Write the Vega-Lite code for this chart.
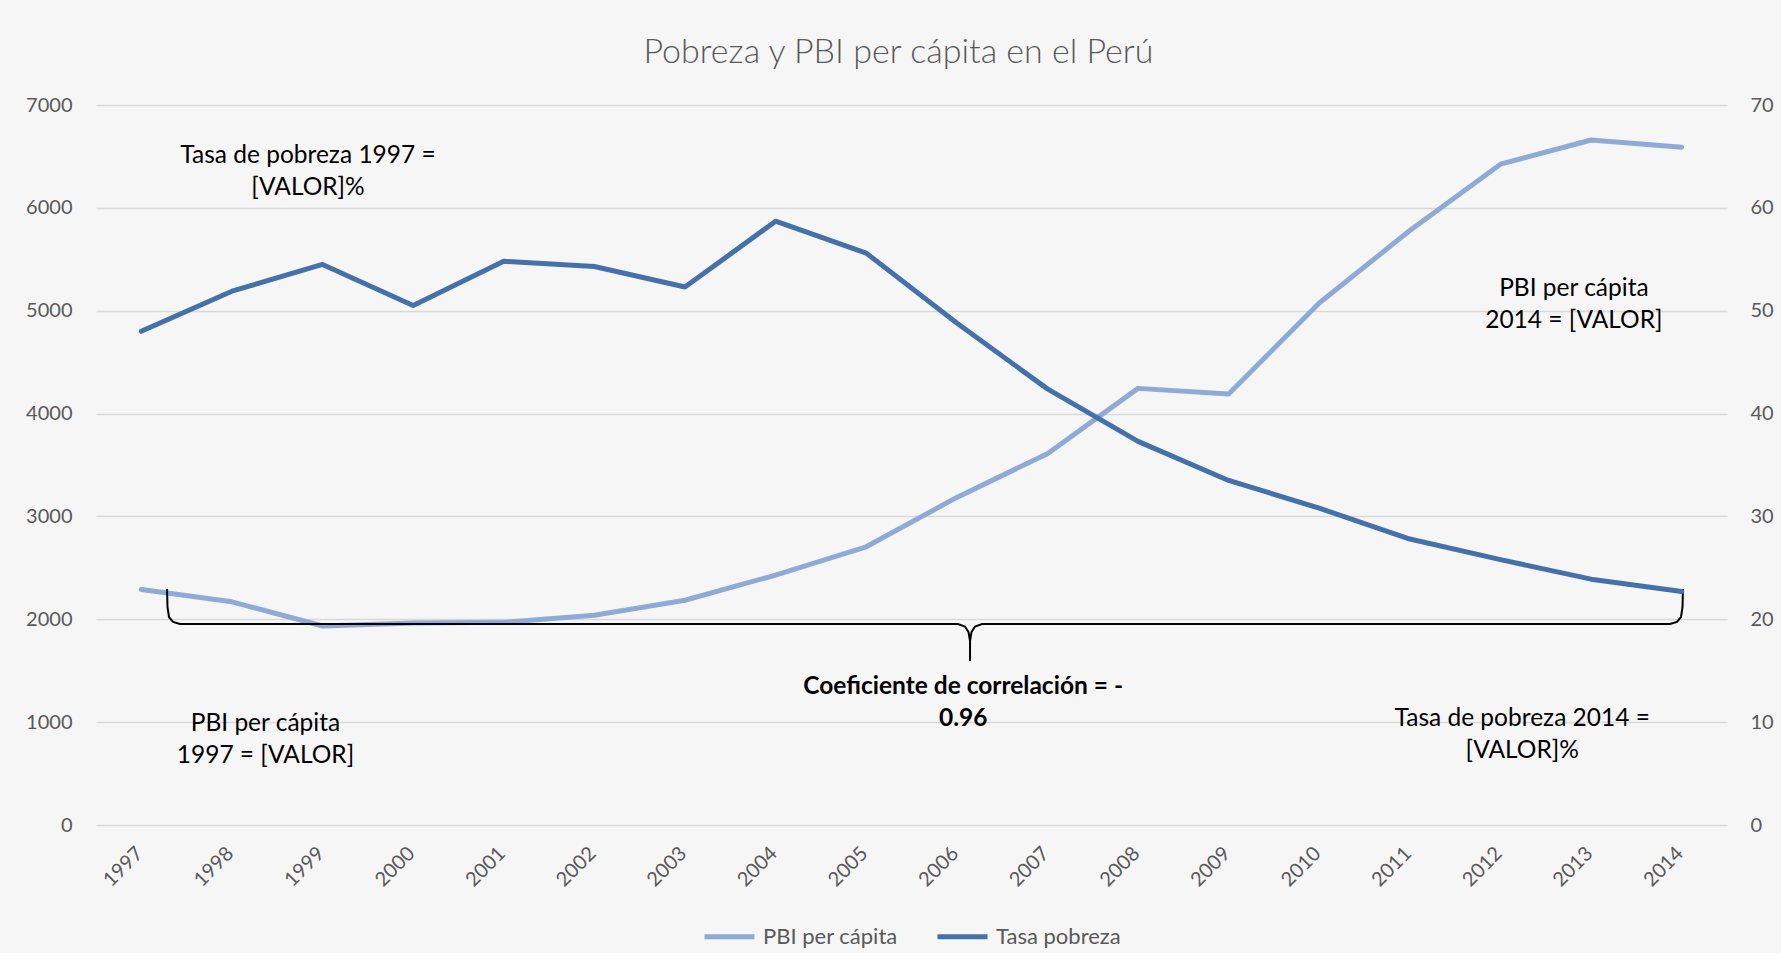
{
  "$schema": "https://vega.github.io/schema/vega-lite/v6.json",
  "width": 1631,
  "height": 720,
  "padding": {"left": 25, "top": 36, "right": 7, "bottom": 5},
  "background": "#F6F6F6",
  "config": {
    "view": {"stroke": null},
    "font": "Lato",
    "legend": {"layout": {"bottom": {"anchor": "middle"}}}
  },
  "title": {
    "text": "Pobreza y PBI per cápita en el Perú",
    "font": "Lato",
    "fontSize": 34,
    "fontWeight": 300,
    "color": "#595959",
    "anchor": "middle",
    "dx": -13,
    "offset": 25
  },
  "datasets": {
    "pbi": [
      {"anio": 1997, "valor": 2290, "serie": "PBI per cápita"},
      {"anio": 1998, "valor": 2170, "serie": "PBI per cápita"},
      {"anio": 1999, "valor": 1935, "serie": "PBI per cápita"},
      {"anio": 2000, "valor": 1965, "serie": "PBI per cápita"},
      {"anio": 2001, "valor": 1970, "serie": "PBI per cápita"},
      {"anio": 2002, "valor": 2040, "serie": "PBI per cápita"},
      {"anio": 2003, "valor": 2185, "serie": "PBI per cápita"},
      {"anio": 2004, "valor": 2430, "serie": "PBI per cápita"},
      {"anio": 2005, "valor": 2705, "serie": "PBI per cápita"},
      {"anio": 2006, "valor": 3185, "serie": "PBI per cápita"},
      {"anio": 2007, "valor": 3610, "serie": "PBI per cápita"},
      {"anio": 2008, "valor": 4245, "serie": "PBI per cápita"},
      {"anio": 2009, "valor": 4190, "serie": "PBI per cápita"},
      {"anio": 2010, "valor": 5075, "serie": "PBI per cápita"},
      {"anio": 2011, "valor": 5780, "serie": "PBI per cápita"},
      {"anio": 2012, "valor": 6425, "serie": "PBI per cápita"},
      {"anio": 2013, "valor": 6660, "serie": "PBI per cápita"},
      {"anio": 2014, "valor": 6590, "serie": "PBI per cápita"}
    ],
    "pobreza": [
      {"anio": 1997, "valor": 48.0, "serie": "Tasa pobreza"},
      {"anio": 1998, "valor": 51.9, "serie": "Tasa pobreza"},
      {"anio": 1999, "valor": 54.5, "serie": "Tasa pobreza"},
      {"anio": 2000, "valor": 50.5, "serie": "Tasa pobreza"},
      {"anio": 2001, "valor": 54.8, "serie": "Tasa pobreza"},
      {"anio": 2002, "valor": 54.3, "serie": "Tasa pobreza"},
      {"anio": 2003, "valor": 52.3, "serie": "Tasa pobreza"},
      {"anio": 2004, "valor": 58.7, "serie": "Tasa pobreza"},
      {"anio": 2005, "valor": 55.6, "serie": "Tasa pobreza"},
      {"anio": 2006, "valor": 48.8, "serie": "Tasa pobreza"},
      {"anio": 2007, "valor": 42.4, "serie": "Tasa pobreza"},
      {"anio": 2008, "valor": 37.3, "serie": "Tasa pobreza"},
      {"anio": 2009, "valor": 33.5, "serie": "Tasa pobreza"},
      {"anio": 2010, "valor": 30.8, "serie": "Tasa pobreza"},
      {"anio": 2011, "valor": 27.8, "serie": "Tasa pobreza"},
      {"anio": 2012, "valor": 25.8, "serie": "Tasa pobreza"},
      {"anio": 2013, "valor": 23.9, "serie": "Tasa pobreza"},
      {"anio": 2014, "valor": 22.7, "serie": "Tasa pobreza"}
    ],
    "notas": [
      {"anio": 1998.84, "valor": 6504, "texto": ["Tasa de pobreza 1997 =", "[VALOR]%"]},
      {"anio": 2012.81, "valor": 5215, "texto": ["PBI per cápita", "2014 = [VALOR]"]},
      {"anio": 1998.37, "valor": 985, "texto": ["PBI per cápita", "1997 = [VALOR]"]},
      {"anio": 2012.24, "valor": 1030, "texto": ["Tasa de pobreza 2014 =", "[VALOR]%"]}
    ],
    "notaBold": [
      {"anio": 2006.07, "valor": 1339, "texto": ["Coeficiente de correlación = -", "0.96"]}
    ],
    "llave": [
      {"orden": 1, "anio": 1997.284, "valor": 2294},
      {"orden": 2, "anio": 1997.289, "valor": 2119},
      {"orden": 3, "anio": 1997.306, "valor": 2022},
      {"orden": 4, "anio": 1997.350, "valor": 1974},
      {"orden": 5, "anio": 1997.427, "valor": 1954},
      {"orden": 6, "anio": 2006.013, "valor": 1954},
      {"orden": 7, "anio": 2006.090, "valor": 1930},
      {"orden": 8, "anio": 2006.129, "valor": 1876},
      {"orden": 9, "anio": 2006.146, "valor": 1789},
      {"orden": 10, "anio": 2006.146, "valor": 1594},
      {"orden": 11, "anio": 2006.146, "valor": 1789},
      {"orden": 12, "anio": 2006.162, "valor": 1876},
      {"orden": 13, "anio": 2006.201, "valor": 1930},
      {"orden": 14, "anio": 2006.278, "valor": 1954},
      {"orden": 15, "anio": 2013.871, "valor": 1954},
      {"orden": 16, "anio": 2013.948, "valor": 1974},
      {"orden": 17, "anio": 2013.992, "valor": 2022},
      {"orden": 18, "anio": 2014.009, "valor": 2119},
      {"orden": 19, "anio": 2014.014, "valor": 2294}
    ]
  },
  "encoding": {
    "x": {
      "field": "anio",
      "type": "quantitative",
      "scale": {"domain": [1996.5, 2014.5], "nice": false, "zero": false},
      "axis": {
        "title": null,
        "values": [1997, 1998, 1999, 2000, 2001, 2002, 2003, 2004, 2005, 2006, 2007, 2008, 2009, 2010, 2011, 2012, 2013, 2014],
        "format": "d",
        "labelAngle": -45,
        "labelAlign": "right",
        "labelBaseline": "top",
        "labelPadding": 18,
        "labelOffset": -9,
        "labelFontSize": 20,
        "labelFont": "Lato",
        "labelColor": "#595959",
        "grid": false,
        "domain": false,
        "ticks": false
      }
    }
  },
  "layer": [
    {
      "encoding": {
        "y": {
          "field": "valor",
          "type": "quantitative",
          "scale": {"domain": [0, 7000], "nice": false},
          "axis": {
            "title": null,
            "values": [0, 1000, 2000, 3000, 4000, 5000, 6000, 7000],
            "format": "d",
            "labelPadding": 24,
            "labelFontSize": 20,
            "labelFont": "Lato",
            "labelColor": "#595959",
            "grid": true,
            "gridColor": "#D9D9D9",
            "gridWidth": 1.5,
            "domain": false,
            "ticks": false
          }
        }
      },
      "layer": [
        {
          "data": {"name": "pbi"},
          "mark": {"type": "line", "strokeWidth": 5, "strokeCap": "round", "strokeJoin": "round"},
          "encoding": {
            "color": {
              "field": "serie",
              "type": "nominal",
              "scale": {"domain": ["PBI per cápita", "Tasa pobreza"], "range": ["#8FAAD6", "#4571AA"]},
              "legend": {
                "title": null,
                "orient": "bottom",
                "direction": "horizontal",
                "symbolType": "stroke",
                "symbolStrokeWidth": 5,
                "symbolSize": 2500,
                "labelFontSize": 22,
                "labelFont": "Lato",
                "labelColor": "#595959",
                "labelOffset": 6,
                "columnPadding": 29,
                "offset": 19
              }
            }
          }
        },
        {
          "data": {"name": "llave"},
          "mark": {"type": "line", "stroke": "#000000", "strokeWidth": 2, "interpolate": "linear"},
          "encoding": {"order": {"field": "orden", "type": "quantitative"}}
        },
        {
          "data": {"name": "notas"},
          "mark": {"type": "text", "align": "center", "baseline": "middle", "fontSize": 24.5, "font": "Lato", "lineHeight": 32, "color": "#000000"},
          "encoding": {"text": {"field": "texto"}}
        },
        {
          "data": {"name": "notaBold"},
          "mark": {"type": "text", "align": "center", "baseline": "middle", "fontSize": 24.5, "font": "Lato", "fontWeight": "bold", "lineHeight": 32, "color": "#000000"},
          "encoding": {"text": {"field": "texto"}}
        }
      ]
    },
    {
      "data": {"name": "pobreza"},
      "mark": {"type": "line", "strokeWidth": 5, "strokeCap": "round", "strokeJoin": "round"},
      "encoding": {
        "y": {
          "field": "valor",
          "type": "quantitative",
          "scale": {"domain": [0, 70], "nice": false},
          "axis": {
            "orient": "right",
            "title": null,
            "values": [0, 10, 20, 30, 40, 50, 60, 70],
            "labelPadding": 23,
            "labelFontSize": 20,
            "labelFont": "Lato",
            "labelColor": "#595959",
            "grid": false,
            "domain": false,
            "ticks": false
          }
        },
        "color": {"field": "serie", "type": "nominal"}
      }
    }
  ],
  "resolve": {"scale": {"y": "independent"}}
}
